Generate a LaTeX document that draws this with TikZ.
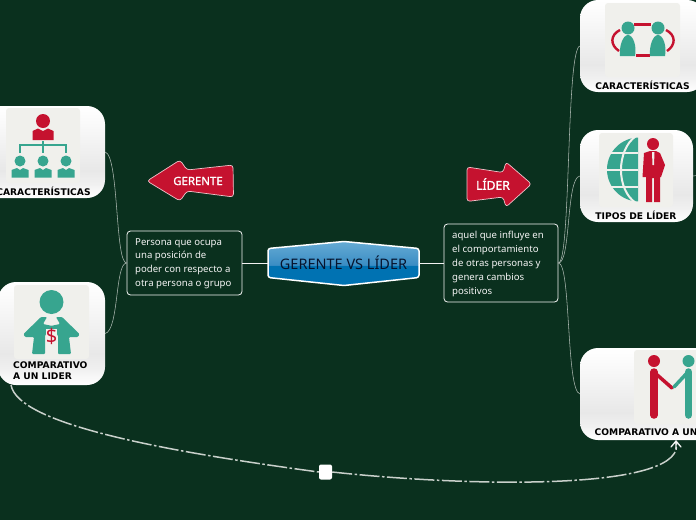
\documentclass[tikz,border=0pt]{standalone}
\usepackage{fontspec}
\setmainfont{Noto Sans}
\newfontfamily\arrowfont{Noto Sans}[FakeBold=1.2]
\newfontfamily\labelfont{DejaVu Sans}[BoldFont={DejaVu Sans Bold}]
\definecolor{bgc}{HTML}{0A301E}
\definecolor{linkc}{HTML}{C9D0CB}
\definecolor{redc}{HTML}{C5122F}
\definecolor{tealc}{HTML}{37A58F}
\definecolor{iconbg}{HTML}{F0F0EC}
\definecolor{navyc}{HTML}{06142E}
\definecolor{HexB}{HTML}{0072B2}
\definecolor{HexM}{HTML}{3A8DC4}
\definecolor{HexT}{HTML}{66ABD4}
\pgfdeclareverticalshading{cardshade}{100bp}{color(0bp)=(white); color(25bp)=(white); color(33bp)=(white!88!gray); color(40bp)=(white!82!gray); color(68bp)=(white!97!gray); color(75bp)=(white); color(100bp)=(white)}
\pgfdeclareverticalshading{hexshade}{100bp}{color(0bp)=(HexB); color(25bp)=(HexB); color(48bp)=(HexB); color(48.1bp)=(HexM); color(75bp)=(HexT); color(100bp)=(HexT)}
\tikzset{
  x=1pt,y=-1pt,
  cardbox/.style={rounded corners=18pt,shading=cardshade,draw=none,inner sep=0pt},
  cardtext/.style={font=\labelfont\bfseries\fontsize{9.15}{11}\selectfont,text=black,inner sep=0pt,align=left},
  notebox/.style={draw=white!92!gray,rounded corners=3.5pt,line width=0.8pt,inner sep=0pt},
  notetext/.style={inner sep=0pt,text=white!92!gray,align=left,font=\fontsize{9.6}{13.9}\selectfont},
  thinlink/.style={draw=linkc!85!bgc,line width=0.55pt},
  mainlink/.style={draw=white!90!gray,line width=1pt},
  arrowshape/.style={fill=redc,draw=white!75!redc,line width=0.7pt,rounded corners=3pt},
  relation/.style={draw=linkc,line width=1.5pt,dash pattern=on 20pt off 2.5pt on 2.5pt off 2.5pt},
}
\begin{document}
\begin{tikzpicture}
\useasboundingbox (0,0) rectangle (696,520);
\clip (0,0) rectangle (696,520);
\fill[bgc] (0,0) rectangle (696,520);

% card nodes
\node[cardbox,minimum width=124pt,minimum height=92pt] (c1) at (43,152) {};
\node[cardbox,minimum width=107pt,minimum height=103pt] (c2) at (51.5,333.5) {};
\node[cardbox,minimum width=125pt,minimum height=92pt] (r1) at (642.5,46) {};
\node[cardbox,minimum width=113pt,minimum height=92pt] (r2) at (636.5,176) {};
\node[cardbox,minimum width=184pt,minimum height=92pt] (r3) at (672,394) {};

% centre
\draw[white,line width=1.5pt,rounded corners=2.5pt,shading=hexshade]
  (268,248.5) -- (344,241.5) -- (419,248.5) -- (419,277.5) -- (344,285.5) -- (268,277.5) -- cycle;
\node[inner sep=0pt,minimum width=151pt,minimum height=30pt,text=navyc,font=\fontsize{14.5}{17}\selectfont] (central) at (343.5,263) {GERENTE VS LÍDER};

% notes
\node[notebox,minimum width=115pt,minimum height=64pt] (nl) at (184.5,263) {};
\node[notetext,anchor=north west] (nltext) at (135,238) {Persona que ocupa\\una posición de\\poder con respecto a\\otra persona o grupo};
\node[notebox,minimum width=114pt,minimum height=78pt] (nr) at (501,263) {};
\node[notetext,anchor=north west] (nrtext) at (452,231) {aquel que influye en\\el comportamiento\\de otras personas y\\genera cambios\\positivos};

% connectors
\draw[mainlink] (central.west) -- (nl.east);
\draw[mainlink] (central.east) -- (nr.west);
\draw[thinlink] (nl.west) .. controls (115,263) and (119,156) .. (c1.east);
\draw[thinlink] (nl.west) .. controls (115,263) and (119,330) .. (c2.east);
\draw[thinlink] (nr.east) .. controls (571,263) and (566,50) .. (r1.west);
\draw[thinlink] (nr.east) .. controls (571,263) and (566,178) .. (r2.west);
\draw[thinlink] (nr.east) .. controls (571,263) and (566,390) .. (r3.west);
\coordinate (tiposout) at (700,175);
\draw[thinlink] (r2.east) -- (tiposout);

% relation
\node[fill=white,rounded corners=2pt,minimum width=13pt,minimum height=15pt,inner sep=0pt] (rel) at (325.5,472) {};
\coordinate (relstart) at (11,385);
\coordinate (relend) at (676,441);
\draw[relation] (relstart) .. controls (18,425) and (170,452) .. (rel.west);
\draw[relation] (rel.east) .. controls (480,488) and (690,490) .. (relend);
\draw[white!92!gray,line width=1.3pt,line cap=round] (671,447) -- (676,441) -- (681,447) (676,441) -- (676,449);

% arrows
\draw[arrowshape] (147,181) -- (180,160) -- (187,170) -- (233,165) -- (233.5,197) -- (187,191) -- (180,201) -- cycle;
\node[text=white,inner sep=0pt,font=\arrowfont\fontsize{11.4}{13}\selectfont] (gerente) at (198,181) {GERENTE};
\draw[arrowshape] (467,167) -- (503,172.5) -- (506,162) -- (531.5,184) -- (506,207) -- (503,197) -- (467,201.5) -- cycle;
\node[text=white,inner sep=0pt,font=\arrowfont\fontsize{12.2}{13}\selectfont] (lider) at (493,184) {LÍDER};

% --- icon 1: org chart
\fill[iconbg,rounded corners=3pt] (6,108) rectangle (80,183);
\fill[redc] (43,121) circle (7);
\fill[redc] (32.5,140) -- (32.5,131) -- (38,128.5) -- (43,131) -- (48,128.5) -- (53.5,131) -- (53.5,140) -- cycle;
\draw[tealc,line width=1.4pt] (20,153) -- (20,145) -- (66,145) -- (66,153) (43,141) -- (43,153);
\foreach \px in {20,43,66}{
  \fill[tealc] (\px,161) circle (5.5);
  \fill[tealc] (\px-8.5,177.5) -- (\px-8.5,170) -- (\px-3,168) -- (\px,170) -- (\px+3,168) -- (\px+8.5,170) -- (\px+8.5,177.5) -- cycle;
}
\node[cardtext,anchor=center] (t1) at (43.5,191) {CARACTERÍSTICAS};

% --- icon 2: money man
\fill[iconbg,rounded corners=3pt] (14,285) rectangle (89,359);
\fill[tealc] (51.5,302) circle (12);
\fill[tealc,rounded corners=1pt] (23.5,334) -- (41,317) -- (47,317) -- (43,324) -- (57,327) -- (45,335) -- (45,354) -- (32,354) -- (34,337) -- (25,337) -- cycle;
\fill[tealc,rounded corners=1pt] (79.5,334) -- (62,317) -- (56,317) -- (60,324) -- (46,327) -- (58,335) -- (58,354) -- (71,354) -- (69,337) -- (78,337) -- cycle;
\fill[iconbg] (46,329) rectangle (57,354);
\node[text=redc,inner sep=0pt,font=\fontsize{20}{22}\selectfont] (dollar) at (51.5,336) {\$};
\node[cardtext,anchor=north west] (t2) at (13,362) {COMPARATIVO\\A UN LIDER};

% --- icon 3: two people
\fill[iconbg,rounded corners=3pt] (605,3) rectangle (680,77);
\draw[redc,line width=2.4pt] (634,24.5) -- (651,24.5) (636,55.5) -- (650,55.5);
\draw[redc,line width=2.4pt] (620,30) .. controls (610,35) and (610,45) .. (619,51);
\draw[redc,line width=2.4pt] (666,30) .. controls (676,35) and (676,45) .. (667,51);
\foreach \px in {628,658}{
  \fill[tealc] (\px,28) circle (6.5);
  \fill[tealc] (\px-8,56) .. controls (\px-9,46) and (\px-5,35) .. (\px,35) .. controls (\px+5,35) and (\px+9,46) .. (\px+7,56) -- cycle;
}
\node[cardtext] (t3) at (642.5,85) {CARACTERÍSTICAS};

% --- icon 4: globe and man
\fill[iconbg,rounded corners=3pt] (599,133) rectangle (673,207);
\begin{scope}
  \clip (600,135) rectangle (638,203);
  \fill[tealc] (639,169.5) circle (32);
  \draw[iconbg,line width=1.8pt] (600,153) -- (640,153) (600,170) -- (640,170) (600,187) -- (640,187);
  \draw[iconbg,line width=2pt] (636,136) .. controls (616,150) and (616,190) .. (636,203);
\end{scope}
\fill[redc] (653,144) circle (6);
\fill[redc] (646,202) -- (646,177) -- (642.5,177) -- (644,153) -- (650,151) -- (656,151) -- (660,153) -- (665,165) -- (661,177) -- (660,177) -- (660,202) -- (654,202) -- (654,178) -- (652,178) -- (652,202) -- cycle;
\fill[iconbg] (652,152) -- (654.5,152) -- (654,165) -- (652.5,165) -- cycle;
\node[cardtext] (t4) at (636,215) {TIPOS DE LÍDER};

% --- icon 5: handshake
\fill[iconbg,rounded corners=3pt] (634,350) rectangle (712,424);
\fill[redc] (654,361) circle (6);
\fill[tealc] (688.5,361) circle (6);
\draw[redc,line width=7.5pt,line cap=round] (654,372) -- (654,415);
\draw[tealc,line width=7.5pt,line cap=round] (688.5,372) -- (688.5,415);
\draw[redc,line width=3.5pt,line cap=round] (655,373) -- (672,388);
\draw[tealc,line width=3.5pt,line cap=round] (687,373) -- (674,387);
\node[cardtext,anchor=west] (t5) at (594.5,432) {COMPARATIVO A UN};
\end{tikzpicture}
\end{document}
